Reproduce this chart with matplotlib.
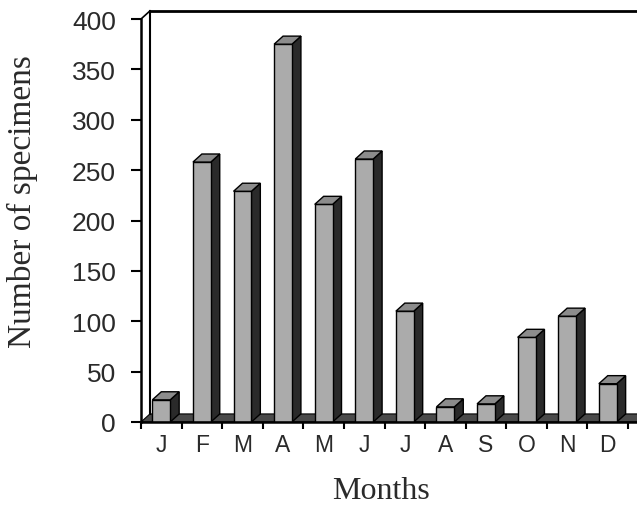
import matplotlib
matplotlib.use('Agg')
import matplotlib.pyplot as plt
from matplotlib.patches import Polygon

# monthly counts
months = ['J', 'F', 'M', 'A', 'M', 'J', 'J', 'A', 'S', 'O', 'N', 'D']
counts = [22, 258, 229, 375, 216, 261, 110, 15, 18, 84, 105, 38]
yticks = [0, 50, 100, 150, 200, 250, 300, 350, 400]

# fake 3D depth (x in category units, y in data units)
dx, dy = 0.22, 8
bw = 0.44
xmax = 12.22

fig = plt.figure(figsize=(6.37, 5.10), dpi=100)
ax = fig.add_axes([141/637, 87/510, 496/637, 403/510])
ax.set_xlim(0, xmax)
ax.set_ylim(0, 400)

# floor strip
floor = Polygon([(0, 0), (xmax, 0), (xmax + dx, dy), (dx, dy)], closed=True,
                facecolor='#4a4a4a', edgecolor='black', lw=0.8, clip_on=False, zorder=1)
ax.add_patch(floor)

# back wall outline
ax.plot([dx, dx], [dy, 400 + dy], color='black', lw=1.5, clip_on=False, zorder=1)
ax.plot([0, dx], [400, 400 + dy], color='black', lw=1.2, clip_on=False, zorder=1)
ax.plot([dx, xmax + 0.1], [400 + dy, 400 + dy], color='black', lw=2, clip_on=False, zorder=1)

# bars: front face + side + top
for i, v in enumerate(counts):
    c = i + 0.5
    x0, x1 = c - bw / 2, c + bw / 2
    ax.bar(c, v, width=bw, color='#ababab', edgecolor='black', lw=1, zorder=3)
    side = Polygon([(x1, 0), (x1 + dx, dy), (x1 + dx, v + dy), (x1, v)], closed=True,
                   facecolor='#2a2a2a', edgecolor='black', lw=1, zorder=2)
    top = Polygon([(x0, v), (x1, v), (x1 + dx, v + dy), (x0 + dx, v + dy)], closed=True,
                  facecolor='#8c8c8c', edgecolor='black', lw=1, zorder=3)
    ax.add_patch(side)
    ax.add_patch(top)

for s in ['top', 'right']:
    ax.spines[s].set_visible(False)
ax.spines['left'].set_linewidth(1.8)
ax.spines['bottom'].set_linewidth(1.8)
ax.spines['left'].set_zorder(5)
ax.spines['bottom'].set_zorder(5)

ax.set_yticks(yticks)
ax.set_yticklabels([str(t) for t in yticks], fontsize=19, family='Liberation Sans', color='#2a2a2a')
ax.tick_params(axis='y', direction='out', length=7, width=1.5, pad=11)

ax.set_xticks(range(13))
ax.set_xticklabels([''] * 13)
ax.set_xticks([i + 0.5 for i in range(12)], minor=True)
ax.set_xticklabels(months, minor=True, fontsize=16.5, family='Liberation Sans', color='#2a2a2a')
ax.tick_params(axis='x', which='major', direction='out', length=5, width=1.5)
ax.tick_params(axis='x', which='minor', length=0, pad=8)

fig.text(22/637, 1 - 202/510, 'Number of specimens', rotation=90, ha='center', va='center',
         fontsize=24, family='Liberation Serif', color='#2a2a2a')
fig.text(381/637, 1 - 492/510, 'Months', ha='center', va='center',
         fontsize=23, family='Liberation Serif', color='#2a2a2a')

fig.savefig('out.png', dpi=100)
